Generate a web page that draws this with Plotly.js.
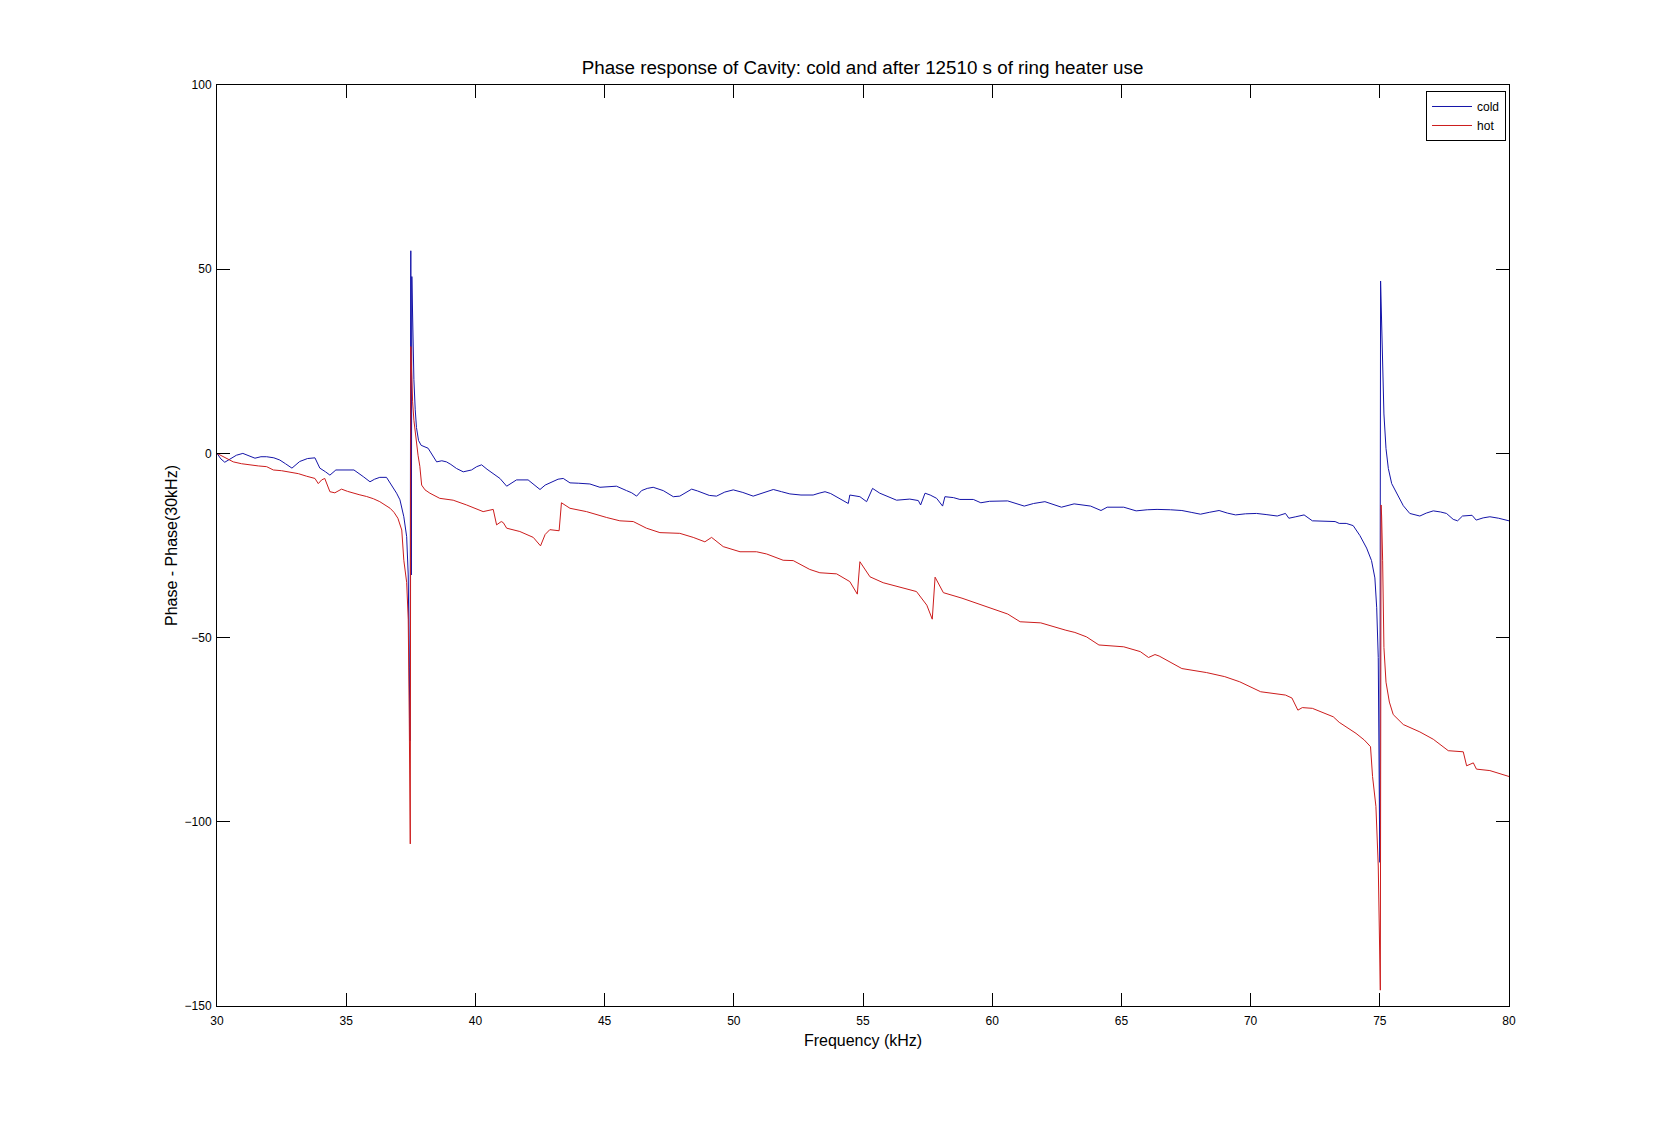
<!DOCTYPE html>
<html>
<head>
<meta charset="utf-8">
<script src="https://cdn.plot.ly/plotly-3.0.1.min.js"></script>
<style>
  html, body { margin: 0; padding: 0; background: #ffffff; }
  #chart { width: 1669px; height: 1132px; }
</style>
</head>
<body>
<div id="chart"></div>
<script>
// Frequency (kHz) and phase values
const coldFreq = [
  30.00, 30.15, 30.30, 30.50, 30.75, 31.00, 31.25, 31.47, 31.70, 31.92,
  32.20, 32.43, 32.65, 32.90, 33.20, 33.50, 33.79, 33.98, 34.20, 34.37,
  34.60, 35.00, 35.30, 35.66, 35.92, 36.10, 36.30, 36.56, 36.76, 36.95,
  37.08, 37.23, 37.34, 37.40, 37.44, 37.47, 37.50, 37.52, 37.54, 37.58,
  37.62, 37.67, 37.72, 37.80, 37.90, 38.17, 38.35, 38.50, 38.70, 38.88,
  39.05, 39.27, 39.53, 39.85, 40.05, 40.24, 40.45, 40.69, 40.95, 41.21,
  41.40, 41.59, 42.04, 42.25, 42.50, 42.70, 42.95, 43.20, 43.40, 43.66,
  44.00, 44.43, 44.82, 45.10, 45.46, 45.85, 46.05, 46.24, 46.43, 46.65,
  46.88, 47.27, 47.50, 47.66, 47.91, 48.15, 48.37, 48.60, 48.82, 49.05,
  49.33, 49.65, 49.98, 50.35, 50.75, 51.10, 51.53, 51.85, 52.17, 52.60,
  53.07, 53.30, 53.53, 53.75, 53.98, 54.20, 54.43, 54.49, 54.70, 54.88,
  55.14, 55.37, 55.65, 56.00, 56.30, 56.81, 57.14, 57.23, 57.40, 57.60,
  57.85, 58.08, 58.17, 58.50, 58.75, 59.27, 59.56, 59.90, 60.30, 60.60,
  61.24, 61.60, 62.04, 62.35, 62.68, 63.17, 63.81, 64.21, 64.45, 65.09,
  65.57, 66.00, 66.38, 66.90, 67.34, 67.70, 68.06, 68.40, 68.78, 69.10,
  69.42, 69.80, 70.23, 70.60, 71.03, 71.35, 71.48, 71.75, 72.07, 72.39,
  72.80, 73.27, 73.43, 73.70, 73.97, 74.23, 74.49, 74.68, 74.81, 74.88,
  74.94, 74.97, 75.00, 75.03, 75.06, 75.09, 75.16, 75.24, 75.33, 75.46,
  75.65, 75.91, 76.16, 76.55, 76.80, 77.07, 77.35, 77.58, 77.84, 78.01,
  78.20, 78.57, 78.73, 79.00, 79.26, 79.60, 80.00
];
const coldPhase = [
  0, -1.5, -2.4, -1.6, -0.5, 0, -0.8, -1.3, -0.9, -0.9,
  -1.2, -1.8, -2.8, -4.0, -2.2, -1.4, -1.2, -4.0, -5.0, -5.9,
  -4.5, -4.5, -4.5, -6.3, -7.7, -7.0, -6.5, -6.5, -8.6, -10.8,
  -12.6, -17.2, -22.6, -33, -58, -78, 55, -33, 48, 30,
  20, 12, 7, 3.5, 2.2, 1.4, -0.5, -2.3, -2.0, -2.3,
  -3.0, -4.1, -5.0, -4.5, -3.6, -3.1, -4.3, -5.4, -6.8, -8.9,
  -8.0, -7.2, -7.2, -8.3, -9.8, -8.6, -7.7, -7.0, -6.8, -8.0,
  -8.1, -8.3, -9.2, -9.0, -8.9, -10.1, -10.7, -11.6, -10.1, -9.5,
  -9.2, -10.1, -11.2, -11.75, -11.6, -10.5, -9.7, -10.2, -10.8, -11.4,
  -11.6, -10.5, -9.9, -10.6, -11.6, -10.8, -9.8, -10.4, -11.0, -11.3,
  -11.3, -10.8, -10.4, -10.9, -11.75, -12.6, -13.6, -11.3, -11.5, -11.75,
  -13.1, -9.5, -10.8, -11.8, -12.7, -12.4, -12.8, -14.0, -10.8, -11.3,
  -12.2, -14.3, -11.75, -12.0, -12.5, -12.5, -13.4, -13.0, -13.0, -12.9,
  -14.3, -13.6, -13.1, -13.8, -14.6, -13.7, -14.3, -15.5, -14.6, -14.6,
  -15.6, -15.3, -15.2, -15.3, -15.5, -16.0, -16.5, -16.0, -15.5, -16.2,
  -16.7, -16.4, -16.3, -16.6, -17.0, -16.3, -17.6, -17.2, -16.7, -18.3,
  -18.3, -18.5, -19.0, -19.0, -19.6, -22.3, -25.7, -29.1, -33.8, -41.9,
  -55.4, -81.7, -111, 46.8, 38.4, 25.5, 10.7, 1.3, -4.1, -8.2,
  -10.9, -14.2, -16.3, -17.0, -16.2, -15.6, -15.9, -16.3, -17.9, -18.3,
  -17.0, -16.8, -18.1, -17.5, -17.2, -17.6, -18.3
];

const hotFreq = [
  30.00, 30.30, 30.63, 30.95, 31.28, 31.60, 31.92, 32.18, 32.50, 32.82,
  33.15, 33.47, 33.79, 33.92, 34.05, 34.17, 34.37, 34.56, 34.82, 35.05,
  35.27, 35.50, 35.79, 36.05, 36.30, 36.50, 36.70, 36.85, 37.00, 37.15,
  37.23, 37.34, 37.40, 37.44, 37.46, 37.48, 37.50, 37.53, 37.57, 37.62,
  37.70, 37.78, 37.85, 37.92, 38.05, 38.24, 38.62, 39.14, 39.66, 40.00,
  40.30, 40.69, 40.82, 41.00, 41.08, 41.21, 41.72, 42.24, 42.52, 42.70,
  42.88, 43.24, 43.33, 43.66, 44.30, 45.08, 45.59, 46.11, 46.62, 47.14,
  47.91, 48.43, 48.88, 49.14, 49.59, 50.24, 50.88, 51.27, 51.91, 52.30,
  52.94, 53.33, 53.98, 54.49, 54.65, 54.78, 54.88, 55.27, 55.78, 56.43,
  57.07, 57.47, 57.68, 57.79, 58.11, 58.83, 59.64, 60.60, 61.08, 61.88,
  62.85, 63.20, 63.65, 64.13, 65.09, 65.73, 66.05, 66.30, 66.46, 67.34,
  68.30, 69.00, 69.58, 70.39, 71.35, 71.60, 71.83, 72.00, 72.39, 73.20,
  73.43, 74.08, 74.40, 74.64, 74.72, 74.85, 74.94, 74.98, 75.02, 75.05,
  75.07, 75.11, 75.16, 75.24, 75.37, 75.52, 75.91, 76.55, 77.07, 77.65,
  78.23, 78.36, 78.62, 78.74, 79.26, 80.00
];
const hotPhase = [
  0, -1.2, -2.3, -2.8, -3.2, -3.4, -3.6, -4.5, -4.7, -5.0,
  -5.5, -6.2, -6.8, -8.2, -7.2, -6.8, -10.4, -10.7, -9.7, -10.3,
  -10.8, -11.2, -11.7, -12.3, -13.1, -13.9, -14.9, -16.0, -17.6, -20.8,
  -29, -35, -45, -72, -97, -106, 29, 21, 14, 9,
  4, -0.5, -3.5, -8.6, -9.9, -10.8, -12.2, -12.7, -14.0, -15.0,
  -15.8, -15.2, -19.4, -18.5, -18.8, -20.3, -21.2, -22.8, -25.1, -22.0,
  -20.7, -21.0, -13.4, -14.9, -15.8, -17.4, -18.3, -18.5, -20.3, -21.5,
  -21.7, -22.8, -24.0, -22.8, -25.3, -26.7, -26.7, -27.3, -29.0, -29.1,
  -31.5, -32.4, -32.7, -34.8, -36.9, -38.2, -29.4, -33.5, -35.1, -36.4,
  -37.5, -41.2, -45.0, -33.6, -37.8, -39.3, -41.2, -43.6, -45.7, -46.0,
  -48.0, -48.6, -49.8, -52.0, -52.5, -53.8, -55.4, -54.6, -55.0, -58.4,
  -59.5, -60.6, -62.0, -64.7, -65.6, -66.4, -69.7, -69.0, -69.2, -71.5,
  -73.0, -76.0, -77.8, -79.6, -87.7, -95.8, -112, -130.2, -145.7, -14,
  -17, -29, -52.7, -62.1, -67.5, -70.9, -73.6, -75.6, -77.6, -80.7,
  -81.0, -84.8, -84.0, -85.7, -86.1, -87.7
];

const seriesNames = ['cold', 'hot'];
const xTickVals = [30, 35, 40, 45, 50, 55, 60, 65, 70, 75, 80];
const yTickVals = [-150, -100, -50, 0, 50, 100];

const FONT = 'Liberation Sans, Arial, Helvetica, sans-serif';

const traces = [
  {
    x: coldFreq, y: coldPhase, name: seriesNames[0],
    type: 'scatter', mode: 'lines',
    line: { color: '#1414a8', width: 1 }
  },
  {
    x: hotFreq, y: hotPhase, name: seriesNames[1],
    type: 'scatter', mode: 'lines',
    line: { color: '#cc1c1c', width: 1 }
  }
];

const axisCommon = {
  showline: true, linecolor: '#000', linewidth: 1, mirror: 'ticks',
  ticks: 'inside', ticklen: 13, tickwidth: 1, tickcolor: '#000',
  showgrid: false, zeroline: false,
  tickfont: { family: FONT, size: 12, color: '#000' }
};

const layout = {
  width: 1669, height: 1132,
  paper_bgcolor: '#ffffff', plot_bgcolor: '#ffffff',
  margin: { l: 217, r: 160, t: 85, b: 126, pad: 0 },
  title: {
    text: 'Phase response of Cavity: cold and after 12510 s of ring heater use',
    font: { family: FONT, size: 18.8, color: '#000' },
    x: 0.5168, xanchor: 'center', xref: 'container',
    y: 1 - 67 / 1132, yanchor: 'middle', yref: 'container'
  },
  xaxis: Object.assign({}, axisCommon, {
    range: [30, 80], tickmode: 'array', tickvals: xTickVals,
    ticklabelstandoff: 4,
    title: { text: 'Frequency (kHz)', font: { family: FONT, size: 16, color: '#000' }, standoff: 7 }
  }),
  yaxis: Object.assign({}, axisCommon, {
    range: [-150, 100], tickmode: 'array', tickvals: yTickVals,
    ticklabelstandoff: 2,
    title: { text: 'Phase - Phase(30kHz)', font: { family: FONT, size: 16, color: '#000' }, standoff: 2 }
  }),
  showlegend: true,
  legend: {
    x: 0.9977, xanchor: 'right', y: 0.9935, yanchor: 'top',
    bgcolor: '#ffffff', bordercolor: '#000', borderwidth: 1,
    font: { family: FONT, size: 12, color: '#000' },
    itemwidth: 40,
    tracegroupgap: 0
  },
  hovermode: false
};

Plotly.newPlot('chart', traces, layout, { displayModeBar: false, staticPlot: true });
</script>
</body>
</html>
